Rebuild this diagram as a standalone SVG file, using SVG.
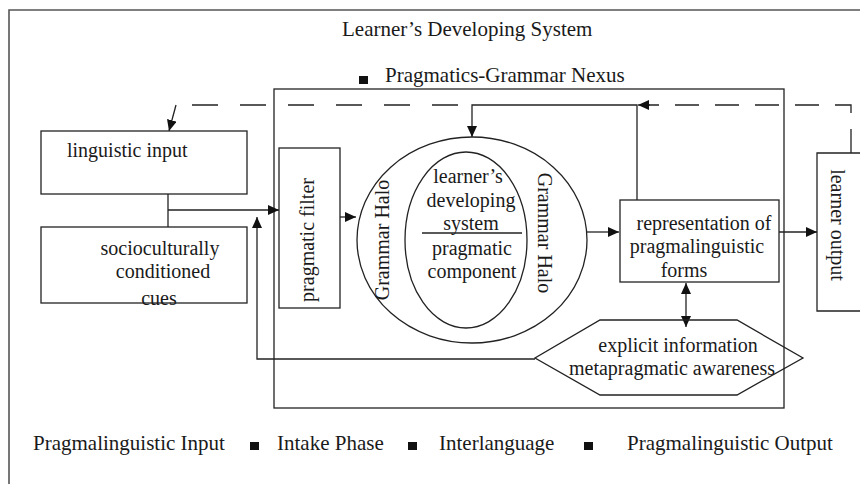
<svg xmlns="http://www.w3.org/2000/svg" width="860" height="484" viewBox="0 0 860 484">
<style>
  .t { font-family: "Liberation Serif", "Times New Roman", serif; font-size: 20px; fill: #1a1a1a; }
  .big { font-size: 21px; }
  .ln { fill: none; stroke: #222; stroke-width: 1.3; }
  .box { fill: #fff; stroke: #222; stroke-width: 1.3; }
  .dash { fill: none; stroke: #222; stroke-width: 1.3; stroke-dasharray: 26 22; }
  .dash2 { fill: none; stroke: #222; stroke-width: 1.3; stroke-dasharray: 24 16; }
  .sq { fill: #111; }
</style>
<defs>
  <marker id="ah" markerUnits="userSpaceOnUse" markerWidth="12" markerHeight="10" refX="11" refY="5" orient="auto-start-reverse">
    <path d="M0,0 L11,5 L0,10 Z" fill="#111"/>
  </marker>
</defs>

<rect width="860" height="484" fill="#fff"/>

<!-- outer frame (Learner's Developing System) -->
<g id="frame">
  <path d="M9,484 L9,10 L860,10" fill="none" stroke="#555" stroke-width="1.6"/>
  <text class="t big" x="342" y="36">Learner’s Developing System</text>
</g>

<!-- Pragmatics-Grammar Nexus frame -->
<g id="nexus">
  <rect x="359" y="76" width="9" height="8" class="sq"/>
  <text class="t big" x="385" y="82">Pragmatics-Grammar Nexus</text>
  <rect x="274" y="89" width="510" height="319" fill="none" stroke="#222" stroke-width="1.3"/>
</g>

<!-- connectors -->
<g id="connectors">
  <path class="dash" d="M458,105 L176,105"/>
  <path class="ln" d="M176,105 L169,131" marker-end="url(#ah)"/>
  <path class="dash2" d="M851,153 L851,105 L648,105"/>
  <path class="ln" d="M650,105 L638,105" marker-end="url(#ah)"/>
  <path class="ln" d="M637,200 L637,105 L472,105 L472,137" marker-end="url(#ah)"/>
  <path class="ln" d="M168,194 L168,227"/>
  <path class="ln" d="M168,210 L279,210" marker-end="url(#ah)"/>
  <path class="ln" d="M340,217 L356,217" marker-end="url(#ah)"/>
  <path class="ln" d="M587,232 L619,232" marker-end="url(#ah)"/>
  <path class="ln" d="M768,232 L817,232" marker-end="url(#ah)"/>
  <path class="ln" d="M686,283 L686,327" marker-start="url(#ah)" marker-end="url(#ah)"/>
  <path class="ln" d="M535,359 L257,359 L257,217" marker-end="url(#ah)"/>
</g>

<g id="linguistic-input">
  <rect class="box" x="41" y="131" width="206" height="63"/>
  <text class="t" x="67" y="157">linguistic input</text>
</g>

<g id="sociocultural-cues">
  <rect class="box" x="41" y="227" width="206" height="76"/>
  <text class="t" x="160" y="255" text-anchor="middle">socioculturally</text>
  <text class="t" x="163" y="278" text-anchor="middle">conditioned</text>
  <text class="t" x="159" y="305" text-anchor="middle">cues</text>
</g>

<g id="pragmatic-filter">
  <rect class="box" x="279" y="148" width="61" height="160"/>
  <text class="t" transform="translate(307,240) rotate(-90)" text-anchor="middle" dominant-baseline="central">pragmatic filter</text>
</g>

<g id="grammar-halo">
  <ellipse cx="472" cy="240" rx="115" ry="103" fill="none" stroke="#222" stroke-width="1.3"/>
  <text class="t" transform="translate(382,240) rotate(-90)" text-anchor="middle" dominant-baseline="central">Grammar Halo</text>
  <text class="t" transform="translate(545,233) rotate(90)" text-anchor="middle" dominant-baseline="central">Grammar Halo</text>
</g>

<g id="developing-system">
  <ellipse cx="466" cy="240" rx="61" ry="88" fill="none" stroke="#222" stroke-width="1.3"/>
  <text class="t" x="468" y="183" text-anchor="middle">learner’s</text>
  <text class="t" x="471" y="207" text-anchor="middle">developing</text>
  <text class="t" x="471" y="230" text-anchor="middle">system</text>
  <path class="ln" d="M422,233 L522,233"/>
  <text class="t" x="472" y="255" text-anchor="middle">pragmatic</text>
  <text class="t" x="472" y="278" text-anchor="middle">component</text>
</g>

<g id="representation">
  <rect class="box" x="620" y="200" width="159" height="82" fill="none"/>
  <text class="t" x="704" y="230" text-anchor="middle">representation of</text>
  <text class="t" x="697" y="253" text-anchor="middle">pragmalinguistic</text>
  <text class="t" x="684" y="277" text-anchor="middle">forms</text>
</g>

<g id="learner-output">
  <path class="ln" d="M860,153 L817,153 L817,311 L860,311" fill="#fff"/>
  <text class="t" transform="translate(838,225) rotate(90)" text-anchor="middle" dominant-baseline="central">learner  output</text>
</g>

<g id="explicit-information">
  <polygon points="600,320 737,320 803,358 737,395 600,395 535,358" fill="none" stroke="#222" stroke-width="1.3"/>
  <text class="t" x="678" y="352" text-anchor="middle">explicit information</text>
  <text class="t" x="672" y="375" text-anchor="middle">metapragmatic awareness</text>
</g>

<g id="legend">
  <text class="t big" x="33" y="450">Pragmalinguistic Input</text>
  <rect class="sq" x="250" y="442" width="9" height="8"/>
  <text class="t big" x="277" y="450">Intake Phase</text>
  <rect class="sq" x="408" y="442" width="9" height="8"/>
  <text class="t big" x="439" y="450">Interlanguage</text>
  <rect class="sq" x="584" y="442" width="9" height="8"/>
  <text class="t big" x="627" y="450">Pragmalinguistic Output</text>
</g>
</svg>
